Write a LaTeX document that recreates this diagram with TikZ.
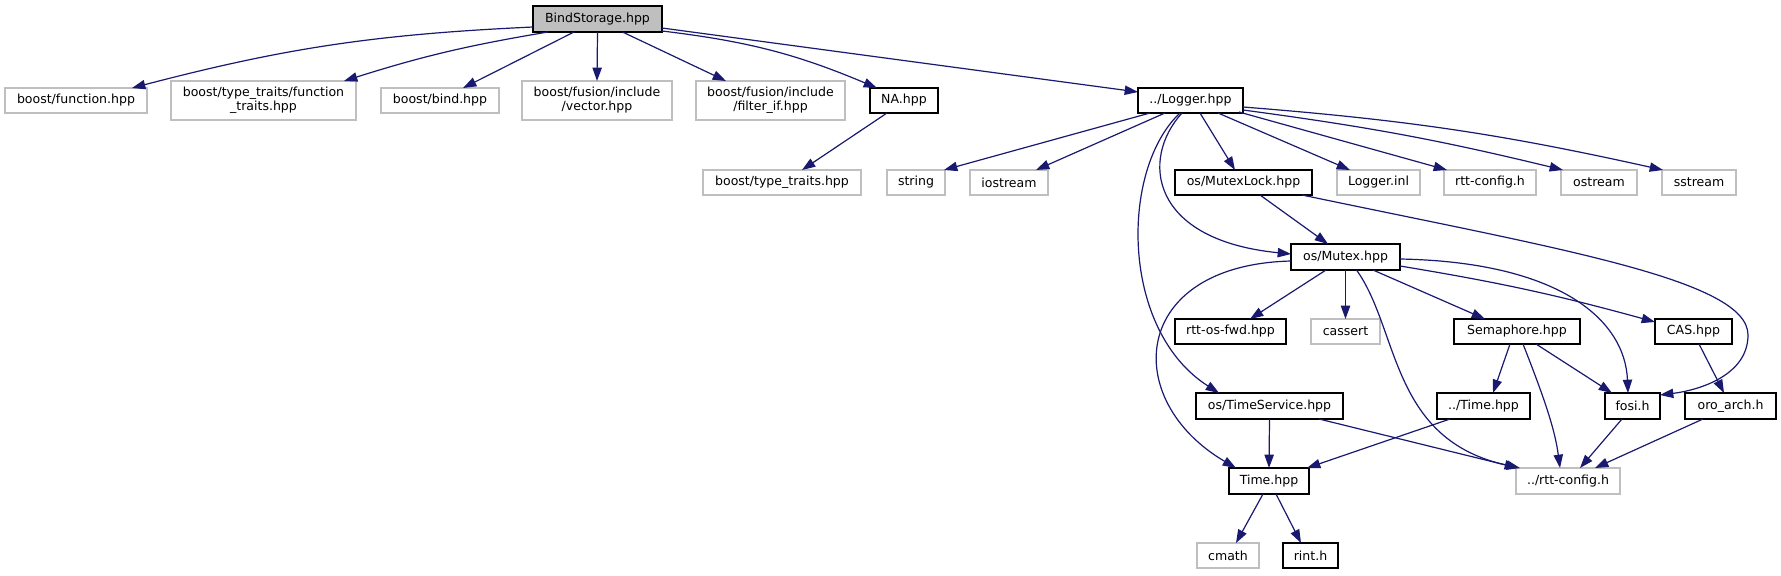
\documentclass[tikz,border=0pt]{standalone}
\usepackage{fontspec}
\setmainfont{DejaVu Sans}
\usetikzlibrary{arrows.meta,calc}
\definecolor{edgec}{HTML}{191970}
\definecolor{grayb}{HTML}{BFBFBF}
\newcommand\gfont{\fontsize{9.4pt}{10.5pt}\selectfont}
\newcommand\gnode[7]{\node[#7, minimum width={(#4-#2)*0.75pt}, minimum height={(#5-#3)*0.75pt}] (#1) at ({(#2+#4)/2},{(#3+#5)/2}) {#6};}
\tikzset{
  nb/.style={draw=black, line width=0.9pt, inner sep=0pt, outer sep=0pt, font=\gfont, align=center},
  ng/.style={draw=grayb, line width=0.9pt, inner sep=0pt, outer sep=0pt, font=\gfont, align=center},
  nr/.style={nb, fill=grayb},
  conn/.style={draw=edgec, line width=0.9pt, -{Triangle[length=10pt,width=7pt]}}
}
\begin{document}
\begin{tikzpicture}[x=0.75pt,y=-0.75pt]
\useasboundingbox (0,0) rectangle (1781,575);
\fill[white] (0,0) rectangle (1781,575);
% rank 0
\gnode{bs}{533}{6}{662}{32}{BindStorage.hpp}{nr}
% rank 1
\gnode{fn}{5}{88}{147}{113}{boost/function.hpp}{ng}
\gnode{ftr}{171}{81}{356}{120}{boost/type\_traits/function\\\_traits.hpp}{ng}
\gnode{bind}{381}{88}{499}{113}{boost/bind.hpp}{ng}
\gnode{vec}{522}{81}{672}{120}{boost/fusion/include\\/vector.hpp}{ng}
\gnode{filt}{696}{81}{845}{120}{boost/fusion/include\\/filter\_if.hpp}{ng}
\gnode{na}{870}{88}{938}{113}{NA.hpp}{nb}
\gnode{log}{1138}{88}{1243}{113}{../Logger.hpp}{nb}
% rank 2
\gnode{btt}{703}{170}{861}{195}{boost/type\_traits.hpp}{ng}
\gnode{str}{887}{170}{945}{195}{string}{ng}
\gnode{ios}{970}{170}{1048}{195}{iostream}{ng}
\gnode{mlock}{1175}{170}{1312}{195}{os/MutexLock.hpp}{nb}
\gnode{linl}{1337}{170}{1420}{195}{Logger.inl}{ng}
\gnode{rcfg}{1444}{170}{1536}{195}{rtt-config.h}{ng}
\gnode{ost}{1561}{170}{1637}{195}{ostream}{ng}
\gnode{sst}{1662}{170}{1736}{195}{sstream}{ng}
% rank 3
\gnode{mtx}{1291}{244}{1400}{270}{os/Mutex.hpp}{nb}
% rank 4
\gnode{fwd}{1175}{319}{1286}{344}{rtt-os-fwd.hpp}{nb}
\gnode{cassert}{1311}{319}{1380}{344}{cassert}{ng}
\gnode{sem}{1454}{319}{1580}{344}{Semaphore.hpp}{nb}
\gnode{casn}{1655}{319}{1732}{344}{CAS.hpp}{nb}
% rank 5
\gnode{tsv}{1196}{393}{1343}{419}{os/TimeService.hpp}{nb}
\gnode{ptime}{1437}{393}{1530}{419}{../Time.hpp}{nb}
\gnode{fosi}{1605}{393}{1660}{419}{fosi.h}{nb}
\gnode{oro}{1685}{393}{1776}{419}{oro\_arch.h}{nb}
% rank 6
\gnode{time}{1229}{468}{1309}{494}{Time.hpp}{nb}
\gnode{prcfg}{1516}{468}{1620}{494}{../rtt-config.h}{ng}
% rank 7
\gnode{cmath}{1197}{543}{1259}{568}{cmath}{ng}
\gnode{rint}{1283}{543}{1338}{568}{rint.h}{nb}
\coordinate (bendA) at (1748,335);
% edges from BindStorage
\draw[conn] ($(bs.south west)+(0,-5)$) to[bend right=6] ($(fn.north east)+(-15,0)$);
\draw[conn] ($(bs.south west)+(15,0)$) to[bend right=4] ($(ftr.north east)+(-12,0)$);
\draw[conn] ($(bs.south west)+(41,0)$) -- ($(bind.north east)+(-36,0)$);
\draw[conn] (bs.south) -- (vec.north);
\draw[conn] ($(bs.south)+(25,0)$) -- ($(filt.north west)+(30,0)$);
\draw[conn] ($(bs.south east)+(0,-1)$) to[bend left=8] ($(na.north west)+(7,0)$);
\draw[conn] ($(bs.south east)+(0,-4)$) -- ($(log.north west)+(0,4)$);
% NA
\draw[conn] ($(na.south west)+(17,0)$) -- ($(btt.north west)+(99,0)$);
% Logger
\draw[conn] ($(log.south west)+(12,0)$) -- ($(str.north east)+(-1,0)$);
\draw[conn] ($(log.south west)+(27,0)$) -- ($(ios.north east)+(-12,0)$);
\draw[conn] ($(log.south west)+(62,0)$) -- ($(mlock.north west)+(60,0)$);
\draw[conn] ($(log.south west)+(80,0)$) -- ($(linl.north west)+(13,0)$);
\draw[conn] ($(log.south east)+(-4,-1)$) -- ($(rcfg.north west)+(3,0)$);
\draw[conn] ($(log.south east)+(0,-3)$) to[bend left=3] ($(ost.north west)+(2,0)$);
\draw[conn] ($(log.south east)+(0,-6)$) to[bend left=4] ($(sst.north west)+(1,0)$);
\draw[conn] ($(log.south west)+(44,0)$) .. controls +(-42,46) and +(-141,-14) .. ($(mtx.west)+(0,-3)$);
\draw[conn] ($(log.south west)+(42,0)$) .. controls +(-60,56) and +(-99,-63) .. ($(tsv.north west)+(23,0)$);
% MutexLock
\draw[conn] ($(mlock.south west)+(85,0)$) -- ($(mtx.north west)+(37,0)$);
\draw[conn] ($(mlock.south east)+(-10,0)$) .. controls +(258,54) and +(0,-55) .. (bendA) .. controls +(0,40) and +(40,-5) .. ($(fosi.north east)+(0,2)$);
% Mutex
\draw[conn] ($(mtx.south west)+(35,0)$) -- ($(fwd.north west)+(75,0)$);
\draw[conn] (mtx.south) -- (cassert.north);
\draw[conn] ($(mtx.south east)+(-27,0)$) -- ($(sem.north west)+(31,0)$);
\draw[conn] ($(mtx.south east)+(0,-4)$) to[bend left=3] ($(casn.north west)+(0,3)$);
\draw[conn] ($(mtx.east)+(0,2)$) .. controls +(160,3) and +(-3,-73) .. ($(fosi.north west)+(23,0)$);
\draw[conn] ($(mtx.west)+(0,4)$) .. controls +(-161,4) and +(-116,-68) .. ($(time.north west)+(7,0)$);
\draw[conn] ($(mtx.south)+(11,0)$) .. controls +(43,60) and +(-130,-28) .. ($(prcfg.north west)+(4,0)$);
% Semaphore
\draw[conn] ($(sem.south west)+(56,0)$) -- ($(ptime.north west)+(56,0)$);
\draw[conn] ($(sem.south west)+(82,0)$) -- ($(fosi.north west)+(7,0)$);
\draw[conn] ($(sem.south west)+(69,0)$) .. controls +(22,56) and +(-5,-38) .. ($(prcfg.north west)+(44,0)$);
% CAS
\draw[conn] ($(casn.south west)+(44,0)$) -- ($(oro.north west)+(39,0)$);
% TimeService
\draw[conn] (tsv.south) -- (time.north);
\draw[conn] ($(tsv.south east)+(-24,0)$) -- ($(prcfg.north west)+(2,0)$);
% ../Time.hpp
\draw[conn] ($(ptime.south west)+(13,0)$) -- ($(time.north east)+(-2,0)$);
% fosi, oro_arch
\draw[conn] ($(fosi.south west)+(17,0)$) -- ($(prcfg.north west)+(64,0)$);
\draw[conn] ($(oro.south west)+(18,0)$) -- ($(prcfg.north west)+(79,0)$);
% Time.hpp
\draw[conn] ($(time.south west)+(34,0)$) -- ($(cmath.north west)+(39,0)$);
\draw[conn] ($(time.south west)+(47,0)$) -- ($(rint.north west)+(18,0)$);
\end{tikzpicture}
\end{document}
